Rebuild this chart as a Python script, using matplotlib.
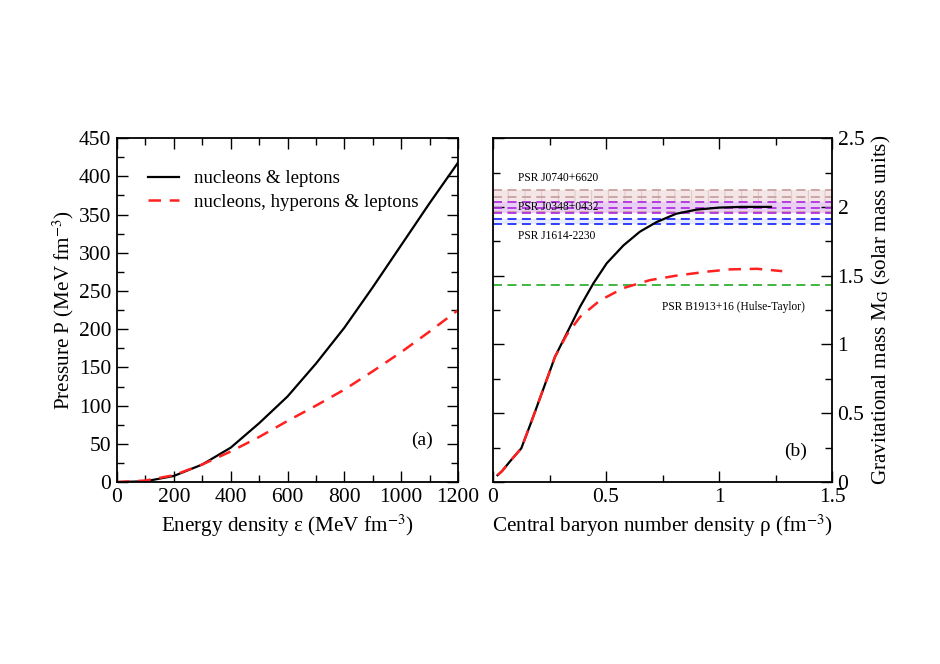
import matplotlib
matplotlib.use('Agg')
import matplotlib.pyplot as plt
from matplotlib.ticker import MultipleLocator

plt.rcParams['font.family'] = ['Liberation Serif', 'DejaVu Serif']
plt.rcParams['mathtext.fontset'] = 'stix'
plt.rcParams['hatch.linewidth'] = 0.6

# panel (a): equation of state
eps = [0, 100, 200, 300, 400, 500, 600, 700, 800, 900, 1000, 1100, 1200]
P_nl = [0, 1, 8, 23, 45, 77, 112, 155, 202, 255, 310, 365, 418]
P_nhl = [0, 2, 9, 23, 40, 59, 80, 100, 121, 145, 170, 197, 225]

# panel (b): mass vs central density
rho_nl = [0.02, 0.04, 0.08, 0.125, 0.17, 0.21, 0.25, 0.274, 0.326, 0.385,
          0.444, 0.503, 0.577, 0.65, 0.724, 0.81, 0.9, 1.0, 1.1, 1.23]
M_nl = [0.05, 0.08, 0.16, 0.245, 0.44, 0.62, 0.80, 0.91, 1.08, 1.274,
        1.444, 1.59, 1.72, 1.82, 1.89, 1.95, 1.98, 1.995, 2.0, 2.0]
rho_nhl = [0.02, 0.04, 0.08, 0.125, 0.17, 0.21, 0.25, 0.274, 0.326, 0.385,
           0.473, 0.577, 0.695, 0.81, 0.95, 1.05, 1.17, 1.28]
M_nhl = [0.05, 0.08, 0.16, 0.245, 0.44, 0.62, 0.80, 0.91, 1.07, 1.20,
         1.32, 1.41, 1.468, 1.50, 1.53, 1.546, 1.55, 1.533]

# pulsar mass constraints
psr_names = ['PSR J0740+6620', 'PSR J0348+0432', 'PSR J1614-2230']
psr_lo = [1.96, 1.953, 1.873]
psr_hi = [2.122, 2.033, 1.909]
psr_mid = [2.07, 1.99, None]
psr_text_y = [2.21, 2.0, 1.79]
hulse_taylor = 1.43

fig = plt.figure(figsize=(9.4, 6.64), dpi=100)
ax1 = fig.add_axes([0.1245, 0.274, 0.3628, 0.518])
ax2 = fig.add_axes([0.5245, 0.274, 0.3606, 0.518])

fs = 15.5

# ---- (a)
ax1.plot(eps, P_nl, color='black', lw=1.6, label='nucleons & leptons')
ax1.plot(eps, P_nhl, color='#ff2020', lw=1.8, dashes=(5, 3.5),
         label='nucleons, hyperons & leptons')
ax1.set_xlim(0, 1200)
ax1.set_ylim(0, 450)
ax1.xaxis.set_major_locator(MultipleLocator(200))
ax1.xaxis.set_minor_locator(MultipleLocator(100))
ax1.yaxis.set_major_locator(MultipleLocator(50))
ax1.yaxis.set_minor_locator(MultipleLocator(25))
ax1.set_xlabel(r'Energy density ε (MeV fm$^{\mathrm{-3}}$)', fontsize=15.2)
ax1.set_ylabel(r'Pressure P (MeV fm$^{\mathrm{-3}}$)', fontsize=15.2, labelpad=2)
ax1.text(0.925, 0.12, '(a)', transform=ax1.transAxes, fontsize=14,
         ha='right', va='center')
leg = ax1.legend(loc='upper left', frameon=False, fontsize=13.6,
                 handlelength=1.6, bbox_to_anchor=(0.059, 0.94),
                 borderaxespad=0.2, labelspacing=0.32, handletextpad=0.8)

# ---- (b)
colors_edge = ['#c9a0a0', '#b030e0', '#2030ff']
colors_fill = ['#f4e6e6', '#e8ccf7', '#e4e8ff']
for i in range(len(psr_names)):
    if i == 0:
        ax2.fill_between([0, 1.5], psr_lo[i], psr_hi[i], facecolor=colors_fill[i],
                         edgecolor='#dcc0c0', hatch='|', lw=0)
    else:
        ax2.fill_between([0, 1.5], psr_lo[i], psr_hi[i], facecolor=colors_fill[i],
                         lw=0, alpha=0.85)
    for yv in (psr_lo[i], psr_mid[i], psr_hi[i]):
        if yv is not None:
            ax2.axhline(yv, color=colors_edge[i], lw=1.3, dashes=(5, 3))
    ax2.text(0.11, psr_text_y[i], psr_names[i], fontsize=8.3, va='center')
ax2.axhline(hulse_taylor, color='#30b030', lw=1.3, dashes=(5, 3))
ax2.text(0.748, 1.274, 'PSR B1913+16 (Hulse-Taylor)', fontsize=8.3, va='center')

ax2.plot(rho_nl, M_nl, color='black', lw=1.6)
ax2.plot(rho_nhl, M_nhl, color='#ff2020', lw=1.8, dashes=(5, 3.5))

ax2.text(0.925, 0.09, '(b)', transform=ax2.transAxes, fontsize=14,
         ha='right', va='center')

ax2.set_xlim(0, 1.5)
ax2.set_ylim(0, 2.5)
ax2.xaxis.set_major_locator(MultipleLocator(0.5))
ax2.xaxis.set_minor_locator(MultipleLocator(0.25))
ax2.yaxis.set_major_locator(MultipleLocator(0.5))
ax2.yaxis.set_minor_locator(MultipleLocator(0.25))
ax2.xaxis.set_major_formatter(plt.FuncFormatter(lambda v, p: '%g' % v))
ax2.yaxis.set_major_formatter(plt.FuncFormatter(lambda v, p: '%g' % v))
ax2.yaxis.tick_right()
ax2.yaxis.set_label_position('right')
ax2.set_xlabel(r'Central baryon number density ρ (fm$^{\mathrm{-3}}$)', fontsize=15.2)
ax2.set_ylabel(r'Gravitational mass M$_{\mathrm{G}}$ (solar mass units)', fontsize=15.2)

for ax in (ax1, ax2):
    ax.tick_params(which='both', direction='in', top=True, bottom=True,
                   left=True, right=True, labelsize=fs, width=1.0)
    ax.tick_params(which='major', length=8, pad=4)
    ax.tick_params(which='minor', length=5)
    for s in ax.spines.values():
        s.set_linewidth(1.3)
ax2.tick_params(labelleft=False, labelright=True)

fig.savefig('out.png', dpi=100, facecolor='white')
